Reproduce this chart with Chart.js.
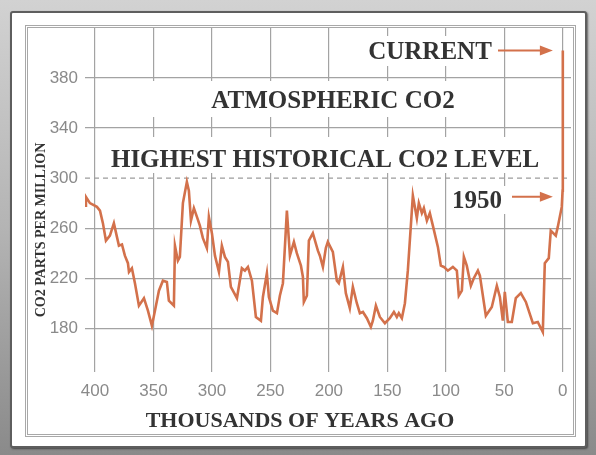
<!DOCTYPE html>
<html lang="en">
<head>
    <meta charset="UTF-8">
    <title>Atmospheric CO2</title>
    <style>
        * {
            box-sizing: border-box;
            margin: 0;
            padding: 0;
        }
        body {
            background-color: #9a9a9a;
            width: 596px;
            height: 455px;
            overflow: hidden;
        }
        #frame {
            position: relative;
            width: 596px;
            height: 455px;
            background: linear-gradient(180deg, #d2d2d2 0%, #b4b4b4 50%, #8a8a8a 100%);
        }
        #panel {
            position: absolute;
            left: 10px;
            top: 11px;
            width: 577px;
            height: 437px;
            background-color: #fff;
            border: 2px solid #5e5e5e;
            border-radius: 3px;
            box-shadow: 1px 1px 2px rgba(0, 0, 0, 0.5);
        }
        #inner {
            position: absolute;
            left: 25px;
            top: 25px;
            width: 551px;
            height: 412px;
            border: 3px double #a8a8a8;
        }
        #chart {
            position: absolute;
            left: 0;
            top: 0;
        }
    </style>
    <script src="https://cdn.jsdelivr.net/npm/chart.js"></script>
</head>
<body>
    <div id="frame">
        <div id="panel"></div>
        <div id="inner"></div>
        <canvas id="chart" width="596" height="455"></canvas>
    </div>

    <script>
        // thousands of years ago
        const kyrAgo = [
            408.5, 407.7, 404.3, 398.3, 395.7, 393.2, 390.6, 387.2, 383.8, 381.2,
            379.5, 376.9, 374.4, 371.8, 370.9, 368.4, 365.8, 362.4, 358.1, 354.7,
            351.3, 348.7, 345.3, 341.9, 338.5, 336.8, 332.5, 331.6, 329.1, 327.4,
            324.8, 321.4, 319.7, 317.9, 315.4, 312.8, 310.3, 307.7, 304.3, 302.6,
            300.0, 297.4, 294.0, 291.5, 288.9, 286.3, 283.8, 278.6, 274.4, 271.8,
            269.2, 265.8, 262.4, 258.1, 256.4, 253.0, 251.3, 247.9, 244.4, 241.9,
            239.3, 235.9, 233.3, 229.9, 227.4, 223.9, 222.2, 221.4, 218.8, 217.1,
            213.7, 209.4, 207.7, 205.1, 202.6, 200.9, 196.6, 193.2, 191.5, 188.0,
            185.5, 182.1, 179.5, 176.1, 173.5, 170.9, 167.5, 164.1, 162.4, 159.8,
            156.4, 152.1, 147.9, 144.4, 141.9, 140.2, 137.6, 135.0, 132.5, 128.2,
            124.8, 123.1, 120.5, 118.8, 116.2, 113.7, 111.1, 106.8, 104.3, 101.7,
            98.3, 94.0, 90.6, 88.9, 86.3, 84.6, 82.1, 78.6, 76.1, 72.6,
            70.9, 65.8, 60.7, 56.4, 53.8, 51.3, 49.6, 47.0, 43.6, 40.2,
            35.9, 31.6, 25.6, 21.4, 17.1, 15.4, 12.0, 10.3, 6.0, 4.3,
            0.9, 0.2, 0
        ];
        // CO2 parts per million
        const co2ppm = [
            278, 285, 280, 277, 274, 264, 250, 254, 264, 253,
            246, 247, 238, 232, 225, 228, 216, 198, 204, 194,
            182, 194, 210, 218, 217, 202, 198, 246, 234, 237,
            280, 297, 290, 266, 276, 269, 262, 252, 244, 269,
            256, 238, 225, 246, 237, 233, 213, 204, 228, 226,
            229, 218, 189, 186, 205, 224, 205, 194, 192, 206,
            216, 274, 238, 249, 240, 230, 221, 201, 206, 250,
            256, 242, 238, 229, 244, 249, 241, 218, 216, 229,
            208, 196, 213, 200, 192, 193, 188, 181, 186, 198,
            189, 184, 188, 193, 189, 192, 188, 200, 226, 286,
            268, 280, 272, 276, 266, 272, 262, 245, 230, 229,
            226, 229, 226, 206, 210, 237, 230, 214, 220, 226,
            222, 190, 197, 214, 205, 186, 209, 185, 185, 204,
            208, 201, 184, 185, 177, 232, 236, 258, 254, 261,
            277, 290, 402
        ];

        const xTicks = [400, 350, 300, 250, 200, 150, 100, 50, 0];
        const yTicks = [180, 220, 260, 300, 340, 380];
        const xMin = -7, xMax = 408.5;
        const yMin = 145, yMax = 420;
        const highestHistorical = 300;
        const currentPpm = 402;
        const ppm1950 = 285;

        const ORANGE = '#d3714b';
        const GRID = '#a3a3a3';
        const SERIF = '"Liberation Serif", "Times New Roman", serif';

        // text labels on the plot, white box behind each (covers the grid)
        const notes = [
            { text: 'CURRENT', x: 430, y: 59, box: [362, 36, 136, 30] },
            { text: 'ATMOSPHERIC CO2', x: 333, y: 108, box: [100, 81, 380, 36] },
            { text: 'HIGHEST HISTORICAL CO2 LEVEL', x: 325, y: 167, box: [100, 137, 450, 36] },
            { text: '1950', x: 477, y: 208, box: [447, 186, 60, 28] }
        ];

        const annotations = {
            id: 'annotations',
            beforeDatasetsDraw(chart) {
                const ctx = chart.ctx;
                ctx.save();
                ctx.fillStyle = '#fff';
                notes.forEach(n => ctx.fillRect(n.box[0], n.box[1], n.box[2], n.box[3]));
                ctx.fillStyle = '#333';
                ctx.textAlign = 'center';
                ctx.textBaseline = 'alphabetic';
                ctx.font = 'bold 25px ' + SERIF;
                notes.forEach(n => ctx.fillText(n.text, n.x, n.y));

                // axis titles
                ctx.font = 'bold 22px ' + SERIF;
                ctx.fillText('THOUSANDS OF YEARS AGO', 300, 427);
                ctx.translate(45, 230);
                ctx.rotate(-Math.PI / 2);
                ctx.font = 'bold 14px ' + SERIF;
                ctx.fillText('CO2 PARTS PER MILLION', 0, 0);
                ctx.restore();
            },
            afterDatasetsDraw(chart) {
                const ctx = chart.ctx;
                const xs = chart.scales.x, ys = chart.scales.y;
                const tipX = xs.getPixelForValue(8.5);
                const arrows = [
                    { from: 498, y: ys.getPixelForValue(currentPpm) },
                    { from: 512, y: ys.getPixelForValue(ppm1950) }
                ];
                ctx.save();
                ctx.strokeStyle = ORANGE;
                ctx.fillStyle = ORANGE;
                ctx.lineWidth = 2;
                arrows.forEach(a => {
                    ctx.beginPath();
                    ctx.moveTo(a.from, a.y);
                    ctx.lineTo(tipX - 8, a.y);
                    ctx.stroke();
                    ctx.beginPath();
                    ctx.moveTo(tipX, a.y);
                    ctx.lineTo(tipX - 13, a.y - 5);
                    ctx.lineTo(tipX - 13, a.y + 5);
                    ctx.closePath();
                    ctx.fill();
                });
                ctx.restore();
            }
        };

        const ctx = document.getElementById('chart').getContext('2d');
        new Chart(ctx, {
            type: 'line',
            data: {
                datasets: [
                    {
                        label: 'CO2',
                        data: kyrAgo.map((t, i) => ({ x: t, y: co2ppm[i] })),
                        borderColor: ORANGE,
                        borderWidth: 2.6,
                        pointRadius: 0,
                        tension: 0,
                        order: 1
                    },
                    {
                        label: 'Highest historical',
                        data: [{ x: xMax, y: highestHistorical }, { x: xMin, y: highestHistorical }],
                        borderColor: '#9c9c9c',
                        borderWidth: 1.3,
                        borderDash: [5, 4],
                        pointRadius: 0,
                        order: 2
                    }
                ]
            },
            options: {
                responsive: false,
                animation: false,
                devicePixelRatio: 1,
                layout: { padding: { left: 25, right: 25, top: 28, bottom: 19 } },
                plugins: {
                    legend: { display: false },
                    tooltip: { enabled: false }
                },
                scales: {
                    x: {
                        type: 'linear',
                        reverse: true,
                        min: xMin,
                        max: xMax,
                        afterBuildTicks: s => { s.ticks = xTicks.map(v => ({ value: v })); },
                        afterFit: s => { s.height = 64; },
                        border: { display: false },
                        grid: { color: GRID, lineWidth: 1.2, drawTicks: false },
                        ticks: {
                            color: '#8a8a8a',
                            padding: 9,
                            maxRotation: 0,
                            font: { family: '"Liberation Sans", Arial, sans-serif', size: 17 }
                        }
                    },
                    y: {
                        min: yMin,
                        max: yMax,
                        afterBuildTicks: s => { s.ticks = yTicks.map(v => ({ value: v })); },
                        afterFit: s => { s.width = 60; },
                        border: { display: false },
                        grid: {
                            color: c => (c.tick && c.tick.value === highestHistorical) ? 'rgba(0,0,0,0)' : GRID,
                            lineWidth: 1.2,
                            drawTicks: false
                        },
                        ticks: {
                            color: '#8a8a8a',
                            padding: 7,
                            font: { family: '"Liberation Sans", Arial, sans-serif', size: 17 }
                        }
                    }
                }
            },
            plugins: [annotations]
        });
    </script>
</body>
</html>
